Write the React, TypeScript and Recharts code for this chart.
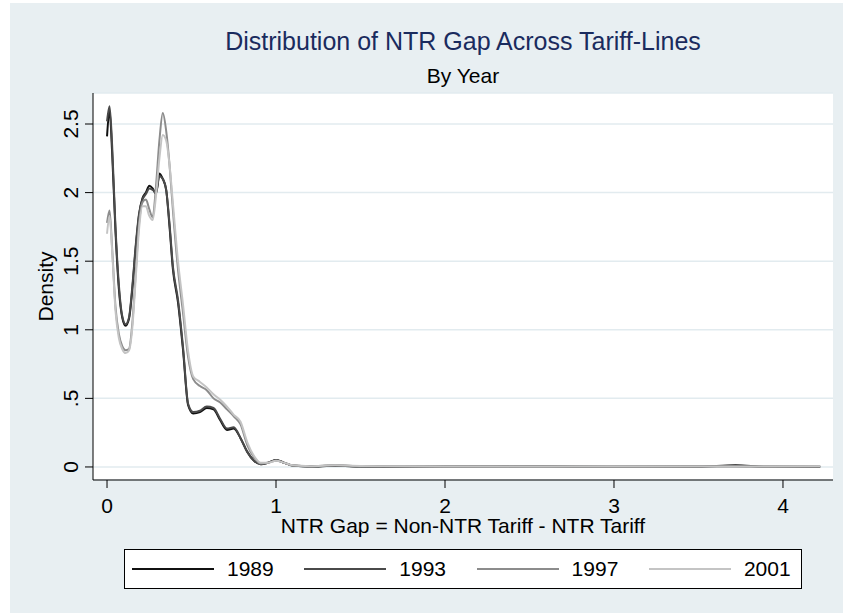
import React from "react";
import { CartesianGrid, Line, LineChart, XAxis, YAxis } from "recharts";

// evaluation points (NTR gap)
const gapX = [0, 0.015, 0.03, 0.05, 0.07, 0.09, 0.11, 0.13, 0.15, 0.17, 0.19, 0.21, 0.23, 0.25, 0.27, 0.29, 0.31, 0.33, 0.35, 0.37, 0.39, 0.42, 0.45, 0.48, 0.51, 0.55, 0.59, 0.63, 0.67, 0.71, 0.75, 0.79, 0.83, 0.87, 0.91, 0.95, 1.0, 1.05, 1.1, 1.2, 1.35, 1.5, 1.75, 2.0, 2.5, 3.0, 3.5, 3.72, 3.9, 4.22];

// kernel density estimates by year
const dens1989 = [2.41, 2.6, 2.3, 1.72, 1.3, 1.09, 1.03, 1.08, 1.3, 1.6, 1.84, 1.96, 2.0, 2.05, 2.03, 1.99, 2.14, 2.1, 2.02, 1.75, 1.44, 1.2, 0.85, 0.45, 0.39, 0.4, 0.43, 0.42, 0.34, 0.27, 0.28, 0.21, 0.11, 0.045, 0.02, 0.03, 0.05, 0.03, 0.01, 0.003, 0.008, 0.004, 0.002, 0.003, 0.003, 0.001, 0.002, 0.012, 0.001, 0.001];
const dens1993 = [2.52, 2.63, 2.35, 1.75, 1.33, 1.1, 1.04, 1.09, 1.32, 1.62, 1.85, 1.95, 1.99, 2.03, 2.02, 2.0, 2.12, 2.1, 2.02, 1.77, 1.46, 1.22, 0.87, 0.46, 0.4, 0.41, 0.44, 0.43, 0.35, 0.28, 0.29, 0.21, 0.11, 0.045, 0.02, 0.03, 0.05, 0.03, 0.01, 0.004, 0.01, 0.005, 0.003, 0.002, 0.005, 0.002, 0.004, 0.006, 0.002, 0.001];
const dens1997 = [1.78, 1.87, 1.6, 1.17, 0.97, 0.88, 0.85, 0.86, 1.05, 1.42, 1.78, 1.93, 1.95, 1.88, 1.82, 2.05, 2.38, 2.58, 2.45, 2.2, 1.87, 1.44, 1.12, 0.8, 0.64, 0.59, 0.56, 0.5, 0.47, 0.42, 0.37, 0.31, 0.16, 0.07, 0.025, 0.03, 0.045, 0.03, 0.01, 0.005, 0.012, 0.006, 0.004, 0.004, 0.004, 0.003, 0.005, 0.004, 0.003, 0.004];
const dens2001 = [1.7, 1.83, 1.58, 1.14, 0.94, 0.86, 0.83, 0.85, 1.02, 1.38, 1.74, 1.9, 1.9, 1.83, 1.8, 1.98, 2.25, 2.42, 2.38, 2.2, 1.92, 1.5, 1.18, 0.84, 0.66, 0.62, 0.58, 0.53, 0.49, 0.44, 0.38, 0.33, 0.18, 0.08, 0.03, 0.03, 0.045, 0.03, 0.012, 0.006, 0.013, 0.007, 0.005, 0.004, 0.004, 0.003, 0.004, 0.003, 0.003, 0.005];

const years = ["1989", "1993", "1997", "2001"];
const yearColors = ["#111111", "#4a4a4a", "#8c8c8c", "#c4c4c4"];
const xTicks = [0, 1, 2, 3, 4];
const yTicks = [0, 0.5, 1, 1.5, 2, 2.5];

const data = gapX.map((x, i) => ({
  x,
  "1989": dens1989[i],
  "1993": dens1993[i],
  "1997": dens1997[i],
  "2001": dens2001[i],
}));

const FONT = '"Liberation Sans", Arial, Helvetica, sans-serif';
const BG = "#e8eff2";

const fmtY = (v: number) => (v === 0 ? "0" : String(v).replace(/^0\./, "."));

function XTick(p: any) {
  return (
    <text x={p.x} y={p.y} dy={23} textAnchor="middle" fontSize={21} fontFamily={FONT} fill="#000">
      {p.payload.value}
    </text>
  );
}

function YTick(p: any) {
  const x = p.x - 5;
  return (
    <text x={x} y={p.y} textAnchor="middle" fontSize={21} fontFamily={FONT} fill="#000" transform={`rotate(-90, ${x}, ${p.y})`}>
      {fmtY(p.payload.value)}
    </text>
  );
}

export default function App() {
  return (
    <div style={{ position: "absolute", left: 0, top: 0, width: 843, height: 613, background: "#fff", fontFamily: FONT }}>
      <div style={{ position: "absolute", left: 10, top: 3, width: 833, height: 610, background: BG }} />
      <div style={{ position: "absolute", left: 93, width: 740, top: 27, textAlign: "center", fontSize: 25, color: "#1a2b5e", lineHeight: "28px" }}>
        Distribution of NTR Gap Across Tariff-Lines
      </div>
      <div style={{ position: "absolute", left: 93, width: 740, top: 64, textAlign: "center", fontSize: 21, color: "#000", lineHeight: "24px" }}>
        By Year
      </div>
      <div style={{ position: "absolute", left: 0, top: 0 }}>
        <LineChart width={843} height={613} data={data} margin={{ top: 93, right: 10, left: 0, bottom: 73 }}>
          <CartesianGrid vertical={false} stroke="#e2ebef" strokeWidth={1.5} fill="#ffffff" />
          <XAxis
            type="number"
            dataKey="x"
            domain={[-0.083, 4.296]}
            ticks={xTicks}
            allowDataOverflow
            height={60}
            tickSize={8}
            stroke="#000"
            tick={<XTick />}
            label={(props: any) => {
              const vb = props.viewBox;
              return (
                <text x={vb.x + vb.width / 2} y={vb.y + 53} textAnchor="middle" fontSize={21} fontFamily={FONT} fill="#000">
                  NTR Gap = Non-NTR Tariff - NTR Tariff
                </text>
              );
            }}
          />
          <YAxis
            type="number"
            domain={[-0.095, 2.726]}
            ticks={yTicks}
            allowDataOverflow
            width={93}
            tickSize={8}
            stroke="#000"
            tick={<YTick />}
            label={(props: any) => {
              const vb = props.viewBox;
              const cy = vb.y + vb.height / 2;
              return (
                <text x={53} y={cy} textAnchor="middle" fontSize={21} fontFamily={FONT} fill="#000" transform={`rotate(-90, 53, ${cy})`}>
                  Density
                </text>
              );
            }}
          />
          {years.map((yr, i) => (
            <Line
              key={yr}
              dataKey={yr}
              type="monotone"
              stroke={yearColors[i]}
              strokeWidth={2}
              dot={false}
              isAnimationActive={false}
            />
          ))}
        </LineChart>
      </div>
      <div style={{ position: "absolute", left: 124, top: 549, width: 678, height: 40, boxSizing: "border-box", border: "1px solid #000", background: "#fff" }}>
        {years.map((yr, i) => (
          <React.Fragment key={yr}>
            <div style={{ position: "absolute", left: 7 + i * 172.3, top: 18, width: 82, height: 2, background: yearColors[i] }} />
            <div style={{ position: "absolute", left: 102 + i * 172.3, top: 7, fontSize: 21, lineHeight: "24px", color: "#000" }}>{yr}</div>
          </React.Fragment>
        ))}
      </div>
    </div>
  );
}
